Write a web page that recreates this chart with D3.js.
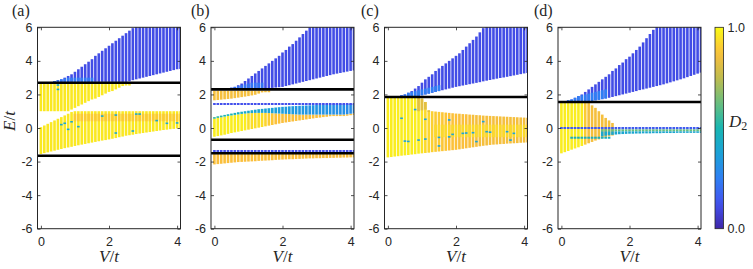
<!DOCTYPE html>
<html>
<head>
<meta charset="utf-8">
<script src="https://cdn.jsdelivr.net/npm/d3@7"></script>
<style>
body { margin: 0; background: #fff; }
text { font-family: "Liberation Sans", Arial, sans-serif; }
.tex { font-family: "Liberation Serif", "Times New Roman", serif; }
</style>
</head>
<body>
<svg width="753" height="269"></svg>
<script>
// V grid of the columns (V/t)
var vGrid = [0.0,0.1,0.2,0.3,0.4,0.5,0.6,0.7,0.8,0.9,1.0,1.1,1.2,1.3,1.4,1.5,1.6,1.7,1.8,1.9,
             2.0,2.1,2.2,2.3,2.4,2.5,2.6,2.7,2.8,2.9,3.0,3.1,3.2,3.3,3.4,3.5,3.6,3.7,3.8,3.9,4.0,4.1];
var panelNames = ["(a)", "(b)", "(c)", "(d)"];
var xTicks = [0, 2, 4];
var yTicks = [-6, -4, -2, 0, 2, 4, 6];

// ---- panel (a)
var aBlueHi = [2.8,2.85,2.9,3.0,3.1,3.2,3.35,3.5,3.65,3.8,3.95,4.1,4.3,4.45,4.6,4.75,4.9,5.05,5.2,5.35,
               5.5,5.65,5.8,5.95,6.1,6.2,6.2,6.2,6.2,6.2,6.2,6.2,6.2,6.2,6.2,6.2,6.2,6.2];
var aBlueLo = [2.75,2.75,2.75,2.75,2.75,2.75,2.75,2.75,2.75,2.75,2.75,2.75,2.75,2.75,2.75,2.75,2.75,2.75,2.75,2.75,
               2.75,2.75,2.78,2.85,2.9,2.95,3.0,3.05,3.1,3.15,3.2,3.25,3.3,3.35,3.4,3.45,3.5,3.52];
var aFootHi = [2.8,2.85,2.9,2.95,3.0,3.0,3.0,3.0,3.0,3.0,3.0,3.0];
var aUpLo = [1.0,1.0,1.0,1.0,1.0,1.0,1.0,1.0,1.0,1.1,1.2,1.3,1.4,1.5,1.6,1.7,1.75,1.85,1.95,2.05,
             2.15,2.2,2.3,2.4,2.5,2.55,2.6];
var aLowHi = [0.05,0.15,0.25,0.35,0.45,0.55,0.65,0.75,0.85,0.95,1.0,1.0,1.0,1.0,1.0,1.0,1.0,1.0,1.0,1.0,
              1.0,1.0,1.0,1.0,1.0,1.0,1.0,1.0,1.0,1.0,1.0,1.0,1.0,1.0,1.0,1.0,1.0,1.0,1.0,1.0,1.0,1.0];
var aLowLo = [-1.55,-1.5,-1.45,-1.4,-1.35,-1.3,-1.25,-1.2,-1.16,-1.12,-1.07,-1.03,-0.99,-0.95,-0.91,-0.87,-0.83,-0.79,-0.75,-0.72,
              -0.68,-0.64,-0.6,-0.55,-0.51,-0.46,-0.43,-0.4,-0.36,-0.33,-0.3,-0.27,-0.24,-0.21,-0.18,-0.15,-0.12,-0.1,-0.07,-0.05,-0.02,0.0];
var aDotV = [0.5,0.6,0.7,0.8,0.9,1.1,1.8,2.2,2.8,2.9,3.4,3.7,2.7,0.5,2.2,4.0];
var aDotE = [2.3,0.2,0.28,-0.08,0.37,0.08,0.71,0.77,0.83,0.83,0.44,0.28,-0.18,2.56,-0.3,0.3];
var aLines = [2.7, -1.65];

// ---- panel (b)
var bBlueHi = [2.4,2.45,2.55,2.65,2.8,2.95,3.1,3.25,3.4,3.55,3.7,3.85,4.0,4.15,4.3,4.5,4.65,4.85,5.0,5.2,
               5.4,5.6,5.8,6.0,6.2,6.2,6.2,6.2,6.2,6.2,6.2,6.2,6.2,6.2,6.2,6.2,6.2];
var bBlueLo = [2.35,2.35,2.35,2.35,2.35,2.35,2.35,2.35,2.35,2.35,2.35,2.37,2.39,2.41,2.43,2.45,2.5,2.55,2.6,2.65,
               2.7,2.75,2.8,2.85,2.9,2.95,3.0,3.05,3.1,3.15,3.2,3.24,3.28,3.32,3.36,3.4,3.43];
var bFootHi = [2.4,2.45,2.5,2.55,2.6,2.65,2.7,2.7,2.7,2.7];
var bOrgLo = [1.65,1.67,1.69,1.71,1.73,1.75,1.78,1.81,1.84,1.87,1.9,1.94,1.98,2.05,2.12,2.17,2.2];
var bMidHi = [0.65,0.7,0.74,0.78,0.82,0.86,0.9,0.94,0.97,1.0,1.03,1.06,1.09,1.12,1.14,1.16,1.18,1.2,1.22,1.24,
              1.26,1.27,1.29,1.3,1.31,1.32,1.33,1.34,1.35,1.36,1.37,1.38,1.38,1.39,1.39,1.4,1.4,1.41,1.41,1.42,1.42,1.42];
var bMidLo = [-0.52,-0.48,-0.44,-0.4,-0.35,-0.3,-0.26,-0.22,-0.18,-0.14,-0.1,-0.06,-0.02,0.02,0.06,0.1,0.14,0.18,0.22,0.26,
              0.3,0.33,0.36,0.39,0.42,0.45,0.48,0.51,0.54,0.57,0.6,0.62,0.65,0.67,0.7,0.72,0.75,0.77,0.8,0.82,0.85,0.87];
var bMidSplit = [0.55,0.6,0.64,0.68,0.72,0.75,0.78,0.81,0.84,0.86,0.88,0.89,0.9,0.9,0.9,0.9,0.89,0.88,0.87,0.86,
                 0.85,0.84,0.83,0.82,0.81,0.8,0.8,0.8,0.8,0.8,0.8,0.8,0.8,0.8,0.8,0.8,0.8,0.8,0.8,0.82,0.85,0.87];
var bMidD2 = [0.97,0.97,0.97,0.97,0.97,0.97,0.97,0.97,0.97,0.97,0.94,0.94,0.94,0.94,0.94,0.92,0.9,0.89,0.88,0.88,
              0.87,0.87,0.87,0.87,0.87,0.87,0.87,0.87,0.87,0.87,0.87,0.87,0.87,0.87,0.87,0.87,0.87,0.87,0.87,0.87,0.87,0.87];
var bCyanD2 = [0.55,0.54,0.52,0.5,0.49,0.48,0.46,0.45,0.44,0.43,0.42,0.41,0.4,0.4,0.39,0.38,0.38,0.37,0.37,0.36,
               0.36,0.35,0.35,0.35,0.34,0.34,0.34,0.33,0.33,0.33,0.33,0.32,0.32,0.32,0.32,0.31,0.31,0.31,0.31,0.3,0.3,0.3];
var bBotLo = [-2.17,-2.15,-2.13,-2.11,-2.09,-2.07,-2.05,-2.03,-2.02,-2.01,-2.0,-1.99,-1.98,-1.96,-1.95,-1.94,-1.93,-1.92,-1.9,-1.89,
              -1.88,-1.87,-1.86,-1.86,-1.85,-1.84,-1.83,-1.82,-1.81,-1.81,-1.8,-1.8,-1.79,-1.79,-1.78,-1.78,-1.77,-1.77,-1.76,-1.76,-1.75,-1.75];
var bRowE = [1.43, -1.37];
var bLines = [2.3, -0.7, -1.5];

// ---- panel (c)
var cBlueHi = [1.9,1.95,2.0,2.1,2.2,2.35,2.5,2.7,2.9,3.05,3.2,3.4,3.55,3.7,3.85,4.0,4.15,4.3,4.45,4.65,
               4.85,5.05,5.25,5.45,5.7,5.95,6.2,6.2,6.2,6.2,6.2,6.2,6.2,6.2,6.2,6.2,6.2,6.2,6.2];
var cBlueLo = [1.9,1.9,1.9,1.9,1.9,1.9,1.9,1.95,2.0,2.05,2.1,2.15,2.2,2.25,2.3,2.35,2.4,2.45,2.49,2.53,
               2.57,2.61,2.65,2.69,2.73,2.78,2.82,2.86,2.9,2.94,2.98,3.01,3.05,3.09,3.13,3.17,3.21,3.25,3.28];
var cFootLo = [1.9,1.9,1.9,1.9,1.9,1.9,1.9,1.95,2.0,2.05,2.1,2.15,2.2];
var cFootHi = [1.9,1.95,2.0,2.1,2.15,2.2,2.25,2.3,2.35,2.4,2.45,2.5,2.55];
var cYelHi = [1.8,1.8,1.8,1.8,1.8,1.8,1.8,1.8,1.8,1.8,1.75,1.55,1.05,1.0,0.98,0.96,0.94,0.92,0.9,0.88,
              0.86,0.85,0.83,0.82,0.8,0.79,0.77,0.76,0.74,0.73,0.72,0.71,0.7,0.69,0.68,0.67,0.66,0.65,0.64,0.63,0.62,0.61];
var cYelLo = [-1.75,-1.73,-1.7,-1.68,-1.65,-1.63,-1.61,-1.58,-1.56,-1.53,-1.51,-1.49,-1.47,-1.44,-1.42,-1.4,-1.38,-1.36,-1.34,-1.32,
              -1.3,-1.27,-1.24,-1.21,-1.18,-1.15,-1.12,-1.09,-1.06,-1.04,-1.01,-0.99,-0.98,-0.96,-0.95,-0.93,-0.92,-0.91,-0.9,-0.88,-0.87,-0.86];
var cYelD2 = [0.97,0.97,0.97,0.97,0.97,0.97,0.97,0.97,0.97,0.97,0.95,0.93,0.92,0.91,0.9,0.9,0.89,0.89,0.88,0.88,
              0.88,0.87,0.87,0.87,0.87,0.86,0.86,0.86,0.86,0.86,0.86,0.86,0.86,0.86,0.86,0.86,0.86,0.86,0.86,0.86,0.86,0.86];
var cWedgeLo = [1.0,1.05,1.1,1.0];
var cWedgeHi = [1.8,1.75,1.55,1.05];
var cDotV = [0.4,0.5,0.8,0.9,1.1,1.1,1.5,1.5,1.8,1.8,1.9,2.2,2.5,2.8,2.9,3.0,3.5,3.7,2.6,3.6,2.3,0.6];
var cDotE = [0.58,-0.78,1.1,-0.72,0.52,-0.66,-0.56,-1.07,0.48,-0.53,-0.38,-0.32,-0.28,0.38,-0.22,-0.25,-0.22,-0.32,-0.81,-0.72,-0.3,-0.8];
var cLines = [1.85];

// ---- panel (d)
var dBlueHi = [1.65,1.7,1.8,1.9,2.0,2.15,2.3,2.45,2.6,2.75,2.9,3.05,3.2,3.4,3.55,3.75,3.9,4.1,4.25,4.45,
               4.65,4.85,5.1,5.35,5.6,5.85,6.1,6.2,6.2,6.2,6.2,6.2,6.2,6.2,6.2,6.2,6.2,6.2,6.2,6.2];
var dBlueLo = [1.62,1.62,1.62,1.62,1.62,1.62,1.62,1.62,1.65,1.68,1.72,1.76,1.8,1.85,1.9,1.95,2.0,2.05,2.1,2.15,
               2.2,2.26,2.3,2.35,2.4,2.45,2.5,2.55,2.6,2.66,2.72,2.78,2.84,2.9,2.96,3.03,3.1,3.17,3.24,3.3];
var dFootLo = [1.62,1.62,1.62,1.62,1.62,1.62,1.62,1.62,1.65,1.68,1.72,1.76];
var dFootHi = [1.65,1.7,1.8,1.9,1.95,2.0,2.05,2.1,2.15,2.2,2.25,2.3];
var dYelHi = [1.5,1.5,1.5,1.5,1.5,1.5,1.5,1.5,1.5,1.35,1.2,1.0,0.8,0.6,0.45,0.3];
var dYelLo = [-1.51,-1.44,-1.37,-1.29,-1.22,-1.15,-1.07,-0.99,-0.91,-0.83,-0.75,-0.68,-0.61,-0.55,-0.5,-0.45];
var dYelD2 = [0.97,0.97,0.97,0.97,0.97,0.97,0.97,0.9,0.86,0.86,0.86,0.86,0.86,0.86,0.86,0.86];
var dThinLo = [-0.5,-0.46,-0.43,-0.41,-0.39,-0.37,-0.36,-0.35,-0.34,-0.34,-0.33,-0.33,-0.32,-0.32,-0.32,
               -0.31,-0.31,-0.31,-0.3,-0.3,-0.3,-0.3,-0.29,-0.29,-0.29,-0.29,-0.28,-0.28,-0.28,-0.28];
var dRowE = [0.0, -0.58];
var dLines = [1.55];

// bands: [panel, first column index, lo, hi, D2, column count when lo/hi are constant]
var bands = [
    [0, 4, aBlueLo, aBlueHi, 0.11], [0, 4, 2.75, aFootHi, 0.24],
    [0, 0, aUpLo, 2.62, 0.96], [0, 0, aLowLo, aLowHi, 0.96], [0, 10, 0.4, 0.85, 0.9, 32],
    [1, 5, bBlueLo, bBlueHi, 0.11], [1, 5, 2.35, bFootHi, 0.22],
    [1, 0, bOrgLo, 2.22, 0.86],
    [1, 0, bMidLo, bMidSplit, bMidD2], [1, 0, bMidSplit, bMidHi, bCyanD2],
    [1, 0, bBotLo, -1.55, 0.87],
    [2, 3, cBlueLo, cBlueHi, 0.11], [2, 3, cFootLo, cFootHi, 0.25],
    [2, 0, cYelLo, cYelHi, cYelD2], [2, 14, -0.55, 0.2, 0.93, 28], [2, 9, cWedgeLo, cWedgeHi, 0.82],
    [3, 2, dBlueLo, dBlueHi, 0.11], [3, 2, dFootLo, dFootHi, 0.25],
    [3, 0, dYelLo, dYelHi, dYelD2],
    [3, 12, -0.08, 0.06, 0.15, 30], [3, 12, -0.2, -0.08, 0.62, 30], [3, 12, dThinLo, -0.2, 0.4]
];
// rows of single levels: [panel, E, first index, last index, D2]
var rows = [
    [1, bRowE[0], 0, 41, 0.12], [1, bRowE[1], 0, 41, 0.12],
    [3, dRowE[0], 0, 11, 0.15], [3, dRowE[1], 3, 14, 0.45]
];
var dots = [[0, aDotV, aDotE, 0.42], [2, cDotV, cDotE, 0.38]];
var hLines = [aLines, bLines, cLines, dLines];

// parula-like colour map
var parula = d3.scaleLinear()
    .domain([0, 0.125, 0.25, 0.375, 0.5, 0.625, 0.75, 0.875, 1])
    .range(["#3e26a8", "#4352ef", "#2f7ff3", "#1aa2d8", "#19b6b2", "#6abf7d", "#c0bc4e", "#fcbf3b", "#f9fb15"])
    .clamp(true);

var at = function(v, k) { return Array.isArray(v) ? v[k] : v; };
var count = function(b) {
    if (b[5]) return b[5];
    return d3.max([b[2], b[3], b[4]], function(v) { return Array.isArray(v) ? v.length : 0; });
};
var num = function(d) { return String(d); };

var svg = d3.select("svg");
var LEFTS = [37.5, 211, 384.5, 558];
var TOP = 27.3, W = 143, H = 201.4;
var x = d3.scaleLinear().domain([-0.1, 4.1]).range([0, W]);
var y = d3.scaleLinear().domain([-6, 6]).range([H, 0]);
var COLW = 2.6;

LEFTS.forEach(function(left, p) {
    var g = svg.append("g").attr("transform", "translate(" + left + "," + TOP + ")");
    g.append("clipPath").attr("id", "clip" + p)
      .append("rect").attr("width", W).attr("height", H);
    var plot = g.append("g").attr("clip-path", "url(#clip" + p + ")");

    bands.filter(function(b) { return b[0] === p; }).forEach(function(b) {
        var cols = d3.range(count(b)).map(function(k) {
            return { v: vGrid[b[1] + k], lo: at(b[2], k), hi: at(b[3], k), d2: at(b[4], k) };
        });
        plot.append("g").selectAll("rect").data(cols).join("rect")
            .attr("x", function(d) { return x(d.v) - COLW / 2; })
            .attr("width", COLW)
            .attr("y", function(d) { return y(d.hi); })
            .attr("height", function(d) { return Math.max(1.5, y(d.lo) - y(d.hi)); })
            .attr("fill", function(d) { return parula(d.d2); });
    });

    rows.filter(function(r) { return r[0] === p; }).forEach(function(r) {
        plot.append("g").selectAll("rect").data(vGrid.slice(r[2], r[3] + 1)).join("rect")
            .attr("x", function(v) { return x(v) - COLW / 2; })
            .attr("width", COLW)
            .attr("y", y(r[1]) - 1)
            .attr("height", 2)
            .attr("fill", parula(r[4]));
    });

    dots.filter(function(d) { return d[0] === p; }).forEach(function(d) {
        plot.append("g").selectAll("rect").data(d[1]).join("rect")
            .attr("x", function(v) { return x(v) - COLW / 2; })
            .attr("width", COLW)
            .attr("y", function(v, i) { return y(d[2][i]) - 0.8; })
            .attr("height", 1.6)
            .attr("fill", parula(d[3]));
    });

    plot.append("g").selectAll("line").data(hLines[p]).join("line")
        .attr("x1", 0).attr("x2", W)
        .attr("y1", function(e) { return y(e); })
        .attr("y2", function(e) { return y(e); })
        .attr("stroke", "#000")
        .attr("stroke-width", 2.6);

    // axes, MATLAB style ticks inside
    var ax = [
        g.append("g").attr("transform", "translate(0," + H + ")")
            .call(d3.axisBottom(x).tickValues(xTicks).tickSize(-3).tickPadding(8).tickFormat(num)),
        g.append("g").call(d3.axisTop(x).tickValues(xTicks).tickSize(-3).tickFormat("")),
        g.append("g").call(d3.axisLeft(y).tickValues(yTicks).tickSize(-3).tickPadding(5).tickFormat(num)),
        g.append("g").attr("transform", "translate(" + W + ",0)")
            .call(d3.axisRight(y).tickValues(yTicks).tickSize(-3).tickFormat(""))
    ];
    ax.forEach(function(a) {
        a.select(".domain").remove();
        a.selectAll("line").attr("stroke", "#262626").attr("stroke-width", 0.8);
        a.selectAll("text").attr("font-size", 12.5).attr("fill", "#262626")
            .style("font-family", "'Liberation Sans', Arial, sans-serif");
    });
    g.append("rect").attr("width", W).attr("height", H)
        .attr("fill", "none").attr("stroke", "#262626").attr("stroke-width", 1);

    var xl = g.append("text").attr("class", "tex")
        .attr("x", W / 2).attr("y", 236.5 - TOP).attr("dy", 26)
        .attr("text-anchor", "middle").attr("font-size", 17).attr("fill", "#262626");
    xl.append("tspan").attr("font-style", "italic").text("V");
    xl.append("tspan").text("/");
    xl.append("tspan").attr("font-style", "italic").text("t");

    svg.append("text").attr("class", "tex")
        .attr("x", [12, 191, 361, 534][p]).attr("y", 16)
        .attr("font-size", 16).attr("fill", "#262626")
        .text(panelNames[p]);
});

// y label
var yl = svg.append("text").attr("class", "tex")
    .attr("transform", "translate(15,121) rotate(-90)")
    .attr("text-anchor", "middle").attr("font-size", 17).attr("fill", "#262626");
yl.append("tspan").attr("font-style", "italic").text("E");
yl.append("tspan").text("/");
yl.append("tspan").attr("font-style", "italic").text("t");

// colour bar
var cbX = 715, cbW = 8.5;
var cy = d3.scaleLinear().domain([0, 1]).range([TOP + H, TOP]);
var grad = svg.append("defs").append("linearGradient").attr("id", "cbgrad")
    .attr("x1", 0).attr("y1", 1).attr("x2", 0).attr("y2", 0);
grad.selectAll("stop").data(d3.range(0, 1.0001, 0.05)).join("stop")
    .attr("offset", function(d) { return d; })
    .attr("stop-color", function(d) { return parula(d); });
svg.append("rect").attr("x", cbX).attr("y", TOP).attr("width", cbW).attr("height", H)
    .attr("fill", "url(#cbgrad)").attr("stroke", "#262626").attr("stroke-width", 0.8);
var cax = svg.append("g").attr("transform", "translate(" + (cbX + cbW) + ",0)")
    .call(d3.axisRight(cy).tickValues([0, 1]).tickFormat(d3.format(".1f")).tickSize(0).tickPadding(4));
cax.select(".domain").remove();
cax.selectAll("text").attr("font-size", 12.5).attr("fill", "#262626")
    .style("font-family", "'Liberation Sans', Arial, sans-serif");
var dl = svg.append("text").attr("class", "tex").attr("x", 729).attr("y", 127)
    .attr("font-size", 17).attr("fill", "#262626");
dl.append("tspan").attr("font-style", "italic").text("D");
dl.append("tspan").attr("font-size", 12).attr("dy", 3).text("2");
</script>
</body>
</html>
